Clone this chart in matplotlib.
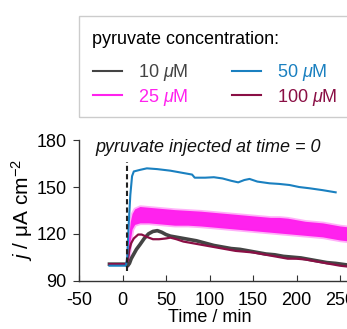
import matplotlib
matplotlib.use("Agg")
import matplotlib.pyplot as plt
from matplotlib.lines import Line2D
from matplotlib.patches import Rectangle

plt.rcParams['font.family'] = ['Liberation Sans', 'DejaVu Sans']
plt.rcParams['mathtext.fontset'] = 'custom'
plt.rcParams['mathtext.rm'] = 'Liberation Sans'
plt.rcParams['mathtext.it'] = 'Liberation Sans:italic'
plt.rcParams['axes.unicode_minus'] = False

# colours of the four pyruvate concentrations
c10 = '#444444'
c25 = '#ff22ee'
c50 = '#1a80c0'
c100 = '#8a0f45'

# 10 uM (time / min, j / uA cm-2)
t10 = [-15, 4, 6, 8, 10, 13, 16, 20, 25, 30, 35, 40, 45, 50, 55, 65, 75, 85, 95,
       105, 115, 125, 135, 145, 155, 165, 175, 185, 195, 205, 215, 225, 235, 245, 258]
j10 = [100.5, 100.5, 99.5, 101, 104, 107, 110, 113, 117, 120, 121.5, 122, 121, 119.5, 118.5,
       117.5, 116.5, 115.5, 114, 112.5, 111.5, 110.5, 110, 109, 108, 107, 106.5, 105.5, 105,
       104.5, 103.5, 102.5, 101.5, 101, 100]

# 25 uM, noisy trace read as upper / lower edge of the band
t25 = [5, 7, 9, 11, 14, 20, 30, 40, 50, 60, 75, 90, 100, 110, 120, 130, 140, 150,
       160, 170, 180, 190, 200, 210, 220, 230, 240, 250, 258]
j25_hi = [101, 118, 128, 133, 136, 137.5, 137, 136.5, 136, 135.5, 135, 134.5, 134, 133.5,
          133, 132.5, 132, 131.5, 131, 130.5, 130.5, 130, 129, 128, 127.5, 127, 126, 125, 124.5]
j25_lo = [99, 104, 116, 123, 126, 127, 127, 126.5, 126, 125.5, 125.5, 125, 124.5, 124,
          123.5, 123, 122.5, 122, 121.5, 121, 120.5, 120, 119.5, 119, 118.5, 118, 117, 116, 115.5]

# 50 uM
t50 = [-15, 4, 5.5, 7, 9, 11, 13, 20, 28, 40, 55, 70, 80, 83, 95, 105, 115, 125, 133,
       140, 146, 155, 169, 180, 192, 203, 215, 230, 245]
j50 = [99.5, 99.5, 105, 125, 145, 157, 160, 161, 162, 161.5, 160.5, 159, 158, 156, 156,
       156.3, 155.5, 154, 153, 154.5, 155.2, 153.5, 152.4, 152, 151.3, 150, 149.2, 148, 146.6]

# 100 uM
t100 = [-15, 4, 6, 8, 10, 13, 18, 22, 28, 35, 42, 50, 55, 62, 70, 80, 90, 100, 110, 120,
        130, 140, 150, 160, 170, 180, 190, 200, 210, 220, 230, 240, 250, 258]
j100 = [100.5, 100.5, 103, 110, 114, 117, 119.5, 119.5, 118, 116.5, 116.5, 117, 117.5,
        116.5, 115, 114, 113, 112, 111, 110, 109, 108.5, 108, 107, 106, 105, 104, 104,
        103.5, 102.5, 101.5, 100.5, 99.5, 99]

t_inject = 5

W, H = 347, 329
fig = plt.figure(figsize=(W / 100, H / 100), dpi=100)
ax = fig.add_axes([79 / W, 48.5 / H, 304.5 / W, 140.2 / H])

# band with a soft fringe, the trace is noisy in the original
ax.fill_between(t25, j25_lo, j25_hi, facecolor=c25, edgecolor=(1, 0.13, 0.93, 0.35),
                linewidth=2.5, zorder=2)
ax.plot(t10, j10, color=c10, linewidth=2.6, zorder=3)
ax.plot(t100, j100, color=c100, linewidth=1.6, zorder=4)
ax.plot(t50, j50, color=c50, linewidth=1.5, zorder=5)
ax.plot([t_inject, t_inject], [96, 166], color='#222222', linestyle=(0, (2.5, 1.5)),
        linewidth=1.5, zorder=6)

ax.set_xlim(-50, 300)
ax.set_ylim(90, 180)
ax.set_xticks([-50, 0, 50, 100, 150, 200, 250])
ax.set_yticks([90, 120, 150, 180])
ax.spines['top'].set_visible(False)
ax.spines['right'].set_visible(False)
for s in ['left', 'bottom']:
    ax.spines[s].set_color('#333333')
    ax.spines[s].set_linewidth(1)
ax.tick_params(axis='y', direction='out', length=4, pad=5, labelsize=13, color='#333333')
ax.tick_params(axis='x', direction='in', length=4, pad=8, labelsize=13, color='#333333')

fig.text(95 / W, 1 - 147 / H, 'pyruvate injected at time = 0',
         ha='left', va='center', fontsize=13, style='italic', color='#111111')
fig.text(210 / W, 1 - 318 / H, 'Time / min', ha='center', va='center', fontsize=13)
fig.text(22 / W, 1 - 210 / H, '$j$ / \u03bcA cm$^{-2}$',
         ha='center', va='center', rotation=90, fontsize=15)

# legend box, runs off the right edge like the reference
fig.patches.append(Rectangle((79 / W, 1 - 117 / H), 300 / W, 101 / H, transform=fig.transFigure,
                             fill=False, edgecolor='#cccccc', linewidth=1))
fig.text(92 / W, 1 - 40 / H, 'pyruvate concentration:', ha='left', va='center', fontsize=13)

handles = [Line2D([], [], color=c, linewidth=1.5) for c in [c10, c25, c50, c100]]
labels = ['10 $\\mu$M', '25 $\\mu$M', '50 $\\mu$M', '100 $\\mu$M']
leg = fig.legend(handles, labels, ncol=2, loc='upper left',
                 bbox_to_anchor=(93 / W, 1 - 62 / H), borderaxespad=0, borderpad=0,
                 fontsize=13, labelcolor='linecolor', frameon=False,
                 handlelength=1.6, handletextpad=0.9, columnspacing=2.4,
                 labelspacing=0.2)

fig.savefig('out.png', dpi=100)
